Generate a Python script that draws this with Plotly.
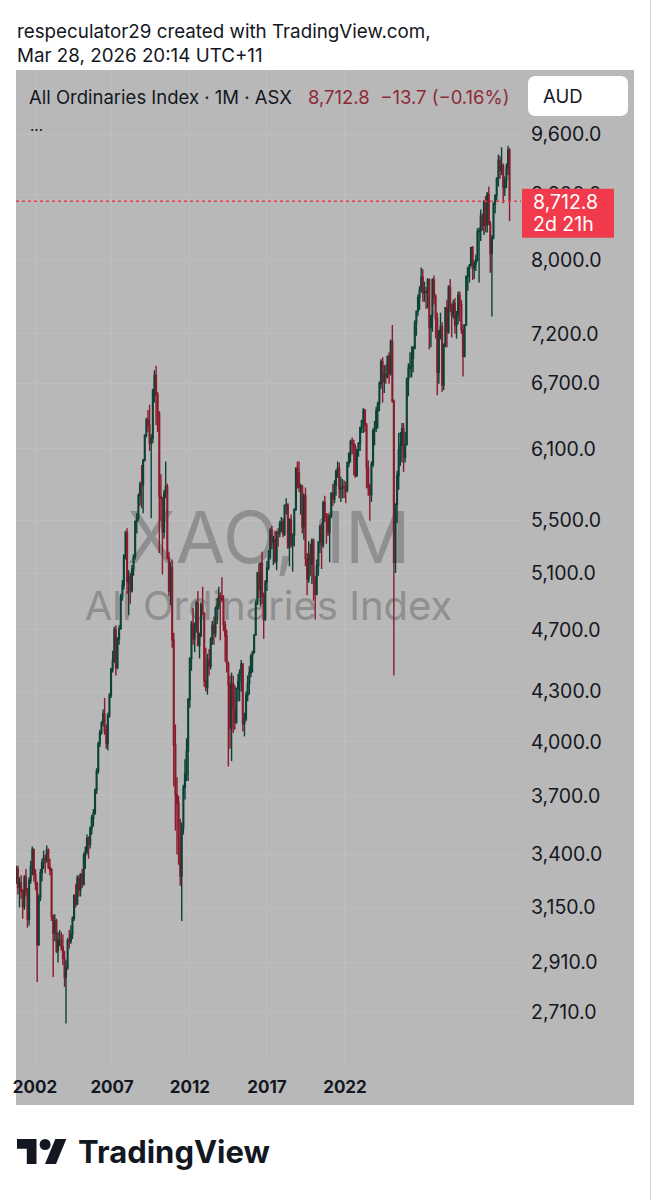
import plotly.graph_objects as go
import pandas as pd
import math

# ---------------- data (monthly candles, All Ordinaries, from Jul 2000) ----------------
start_month = "2000-07-01"

opens = [
    3257, 3281, 3330, 3245, 3265, 3225,                                   # 2000 Jul-Dec
    3155, 3291, 3225, 3097, 3275, 3340, 3425, 3303, 3260, 2988, 3197, 3312,  # 2001
    3360, 3383, 3374, 3422, 3340, 3325, 3108, 3035, 3091, 2960, 3005, 3005,  # 2002
    2976, 2927, 2849, 2888, 3004, 3000, 3031, 3100, 3207, 3166, 3285, 3232,  # 2003
    3306, 3260, 3397, 3415, 3480, 3450, 3530, 3585, 3610, 3730, 3835, 3990,  # 2004
    4053, 4107, 4165, 4061, 3990, 4152, 4278, 4441, 4498, 4698, 4451, 4640,  # 2005
    4708, 4933, 5010, 5228, 5405, 5038, 5074, 4972, 5130, 5222, 5495, 5520,  # 2006
    5700, 5795, 5790, 6000, 6221, 6358, 6310, 6150, 6196, 6638, 6779, 6591,  # 2007
    6421, 5697, 5680, 5410, 5720, 5773, 5215, 4970, 5140, 4632, 3983, 3706,  # 2008
    3659, 3478, 3296, 3532, 3744, 3818, 3947, 4249, 4508, 4739, 4640, 4716,  # 2009
    4883, 4596, 4661, 4871, 4808, 4366, 4325, 4498, 4460, 4637, 4730, 4678,  # 2010
    4847, 4869, 4935, 4929, 4910, 4733, 4660, 4475, 4343, 4080, 4350, 4200,  # 2011
    4111, 4320, 4360, 4420, 4473, 4105, 4135, 4275, 4350, 4420, 4525, 4550,  # 2012
    4665, 4880, 5100, 4980, 5175, 4930, 4775, 5035, 5140, 5220, 5425, 5335,  # 2013
    5353, 5190, 5405, 5403, 5475, 5490, 5396, 5624, 5625, 5296, 5505, 5313,  # 2014
    5389, 5588, 5929, 5891, 5773, 5777, 5451, 5699, 5207, 5058, 5239, 5166,  # 2015
    5345, 5056, 4948, 5152, 5333, 5451, 5310, 5644, 5526, 5526, 5407, 5536,  # 2016
    5719, 5673, 5785, 5903, 5931, 5761, 5764, 5773, 5772, 5744, 5976, 6057,  # 2017
    6167, 6146, 6117, 5868, 6087, 6146, 6289, 6352, 6446, 6311, 5938, 5771,  # 2018
    5709, 5965, 6261, 6284, 6444, 6509, 6699, 6916, 6721, 6789, 6768, 6965,  # 2019
    6802, 7121, 6532, 5180, 5630, 5870, 6090, 6130, 6280, 6023, 6137, 6745,  # 2020
    6850, 6870, 6948, 7050, 7311, 7436, 7585, 7669, 7811, 7637, 7650, 7640,  # 2021
    7780, 7265, 7386, 7780, 7595, 7360, 6810, 7230, 7270, 6690, 7090, 7474,  # 2022
    7221, 7700, 7475, 7390, 7520, 7290, 7400, 7610, 7510, 7240, 6970, 7290,  # 2023
    7820, 7910, 7940, 8150, 7910, 7960, 8010, 8340, 8350, 8530, 8420, 8710,  # 2024
    8420, 8800, 8430, 8080, 8270, 8680, 8790, 9000, 9240, 9110, 9170, 8890,  # 2025
    8980, 9150, 9380,                                                     # 2026 Jan-Mar
]

highs = [
    3320, 3345, 3345, 3290, 3300, 3235,
    3300, 3330, 3240, 3290, 3370, 3440, 3430, 3330, 3270, 3210, 3330, 3380,
    3420, 3400, 3445, 3430, 3380, 3335, 3120, 3120, 3100, 3040, 3050, 3040,
    3030, 2960, 2920, 3015, 3050, 3070, 3110, 3210, 3260, 3300, 3300, 3310,
    3330, 3410, 3440, 3500, 3490, 3540, 3600, 3630, 3740, 3850, 4000, 4070,
    4120, 4190, 4260, 4100, 4170, 4290, 4450, 4560, 4720, 4730, 4650, 4730,
    4950, 5050, 5240, 5420, 5440, 5120, 5100, 5160, 5240, 5500, 5560, 5720,
    5820, 5960, 6010, 6230, 6380, 6450, 6500, 6230, 6650, 6830, 6875, 6620,
    6440, 5880, 5690, 5750, 5990, 5800, 5260, 5180, 5200, 4680, 4100, 3800,
    3700, 3580, 3560, 3760, 3900, 4020, 4260, 4520, 4760, 4850, 4750, 4900,
    4970, 4680, 4890, 5000, 4820, 4580, 4540, 4570, 4650, 4760, 4790, 4860,
    4920, 5000, 4960, 5070, 4940, 4760, 4700, 4490, 4400, 4420, 4400, 4340,
    4320, 4410, 4440, 4500, 4480, 4170, 4300, 4400, 4460, 4540, 4560, 4670,
    4900, 5110, 5170, 5180, 5260, 4960, 5050, 5190, 5270, 5440, 5460, 5380,
    5420, 5420, 5440, 5500, 5530, 5520, 5630, 5680, 5640, 5520, 5550, 5400,
    5600, 5940, 5990, 5990, 5800, 5790, 5720, 5770, 5250, 5340, 5320, 5360,
    5360, 5080, 5200, 5340, 5470, 5480, 5660, 5700, 5560, 5560, 5550, 5730,
    5800, 5830, 5920, 5990, 5980, 5860, 5840, 5830, 5820, 5990, 6070, 6180,
    6200, 6180, 6140, 6100, 6160, 6300, 6360, 6470, 6460, 6330, 6000, 5800,
    5990, 6280, 6350, 6480, 6530, 6720, 6940, 6960, 6880, 6890, 6980, 7010,
    7140, 7290, 6550, 5640, 5910, 6240, 6250, 6330, 6330, 6250, 6760, 6900,
    7010, 7070, 7070, 7340, 7440, 7620, 7710, 7920, 7900, 7760, 7700, 7800,
    7800, 7400, 7800, 7830, 7620, 7420, 7230, 7420, 7320, 7100, 7480, 7560,
    7720, 7790, 7520, 7560, 7580, 7440, 7650, 7650, 7560, 7300, 7300, 7830,
    7930, 7960, 8160, 8170, 8000, 8070, 8380, 8390, 8610, 8560, 8730, 8780,
    8830, 8900, 8470, 8300, 8700, 8800, 9020, 9320, 9300, 9420, 9200, 9030,
    9200, 9440, 9410,
]

lows = [
    3230, 3260, 3210, 3150, 3190, 3100,
    3140, 3200, 3060, 3070, 3260, 3300, 3270, 3230, 2830, 2980, 3180, 3270,
    3330, 3310, 3360, 3330, 3300, 3090, 2850, 3000, 2950, 2910, 2980, 2960,
    2900, 2810, 2665, 2880, 2970, 2990, 3010, 3090, 3150, 3160, 3200, 3200,
    3240, 3250, 3330, 3400, 3380, 3430, 3500, 3540, 3600, 3710, 3820, 3970,
    4040, 4090, 4040, 3960, 3950, 4140, 4260, 4420, 4480, 4400, 4440, 4600,
    4700, 4900, 4980, 5200, 4950, 4800, 4880, 4960, 5080, 5200, 5400, 5500,
    5620, 5600, 5560, 5990, 6200, 6250, 6080, 5520, 6150, 6520, 6310, 6250,
    5250, 5500, 5090, 5360, 5680, 5200, 4930, 4870, 4580, 3750, 3520, 3400,
    3350, 3250, 3090, 3500, 3680, 3780, 3780, 4200, 4430, 4600, 4550, 4680,
    4590, 4510, 4650, 4800, 4330, 4300, 4280, 4400, 4440, 4600, 4600, 4650,
    4740, 4840, 4630, 4890, 4690, 4490, 4420, 3860, 3960, 3890, 4050, 4070,
    4110, 4240, 4240, 4300, 4060, 4030, 4120, 4240, 4280, 4390, 4420, 4540,
    4660, 4870, 4920, 4860, 4880, 4640, 4760, 4970, 5120, 5200, 5280, 5160,
    5170, 5120, 5300, 5370, 5410, 5370, 5380, 5550, 5280, 5150, 5290, 5110,
    5300, 5580, 5760, 5730, 5550, 5400, 5350, 5150, 4940, 5030, 5080, 5020,
    4900, 4770, 4940, 5080, 5250, 5130, 5290, 5490, 5320, 5380, 5180, 5520,
    5620, 5640, 5700, 5850, 5680, 5650, 5680, 5680, 5640, 5730, 5940, 5980,
    6050, 5870, 5850, 5860, 6030, 6080, 6240, 6240, 6250, 5760, 5700, 5500,
    5650, 5940, 6130, 6250, 6280, 6440, 6650, 6520, 6610, 6700, 6750, 6700,
    6780, 6520, 4400, 5100, 5480, 5750, 5950, 5980, 5900, 5980, 6130, 6580,
    6760, 6760, 6810, 7040, 7180, 7390, 7450, 7640, 7540, 7540, 7460, 7470,
    7040, 7060, 7220, 7510, 7150, 6590, 6700, 7140, 6620, 6640, 7060, 7060,
    7200, 7430, 7160, 7360, 7200, 7150, 7300, 7330, 7200, 6770, 6960, 7280,
    7660, 7750, 7940, 7780, 7790, 7880, 7990, 7750, 8230, 8350, 8300, 8330,
    8330, 8420, 7860, 7380, 8250, 8560, 8720, 8900, 9000, 9050, 8690, 8780,
    8880, 9050, 8470,
]

closes = [
    3281, 3330, 3245, 3265, 3225, 3155,
    3291, 3225, 3097, 3275, 3340, 3425, 3303, 3260, 2988, 3197, 3312, 3360,
    3383, 3374, 3422, 3340, 3325, 3108, 3035, 3091, 2960, 3005, 3005, 2976,
    2927, 2849, 2888, 3004, 3000, 3031, 3100, 3207, 3166, 3285, 3232, 3306,
    3260, 3397, 3415, 3480, 3450, 3530, 3585, 3610, 3730, 3835, 3990, 4053,
    4107, 4165, 4061, 3990, 4152, 4278, 4441, 4498, 4698, 4451, 4640, 4708,
    4933, 5010, 5228, 5405, 5038, 5074, 4972, 5130, 5222, 5495, 5520, 5700,
    5795, 5790, 6000, 6221, 6358, 6310, 6150, 6196, 6638, 6779, 6591, 6421,
    5697, 5680, 5410, 5720, 5773, 5215, 4970, 5140, 4632, 3983, 3706, 3659,
    3478, 3296, 3532, 3744, 3818, 3947, 4249, 4508, 4739, 4640, 4716, 4883,
    4596, 4661, 4871, 4808, 4366, 4325, 4498, 4460, 4637, 4730, 4678, 4847,
    4869, 4935, 4929, 4910, 4733, 4660, 4475, 4343, 4080, 4350, 4200, 4111,
    4320, 4360, 4420, 4473, 4105, 4135, 4275, 4350, 4420, 4525, 4550, 4665,
    4880, 5100, 4980, 5175, 4930, 4775, 5035, 5140, 5220, 5425, 5335, 5353,
    5190, 5405, 5403, 5475, 5490, 5396, 5624, 5625, 5296, 5505, 5313, 5389,
    5588, 5929, 5891, 5773, 5777, 5451, 5699, 5207, 5058, 5239, 5166, 5345,
    5056, 4948, 5152, 5333, 5451, 5310, 5644, 5526, 5526, 5407, 5536, 5719,
    5673, 5785, 5903, 5931, 5761, 5764, 5773, 5772, 5744, 5976, 6057, 6167,
    6146, 6117, 5868, 6087, 6146, 6289, 6352, 6446, 6311, 5938, 5771, 5709,
    5965, 6261, 6284, 6444, 6509, 6699, 6916, 6721, 6789, 6768, 6965, 6802,
    7121, 6532, 5180, 5630, 5870, 6090, 6130, 6280, 6023, 6137, 6745, 6850,
    6870, 6948, 7050, 7311, 7436, 7585, 7669, 7811, 7637, 7650, 7640, 7780,
    7265, 7386, 7780, 7595, 7360, 6810, 7230, 7270, 6690, 7090, 7474, 7221,
    7700, 7475, 7390, 7520, 7290, 7400, 7610, 7510, 7240, 6970, 7290, 7820,
    7910, 7940, 8150, 7910, 7960, 8010, 8340, 8350, 8530, 8420, 8710, 8420,
    8800, 8430, 8080, 8270, 8680, 8790, 9000, 9240, 9110, 9170, 8890, 8980,
    9150, 9380, 8712.8,
]

dates = pd.date_range(start_month, periods=len(closes), freq="MS")

price_ticks = [2710, 2910, 3150, 3400, 3700, 4000, 4300, 4700, 5100, 5500,
               6100, 6700, 7200, 8000, 8800, 9600]
# time-axis labels sit where the reference screenshot shows them
year_tick_dates = ["2001-07-22", "2005-07-19", "2009-08-03", "2013-08-01", "2017-08-18"]
year_labels = ["2002", "2007", "2012", "2017", "2022"]
last_price = 8712.8

# ---------------- geometry / style ----------------
W, H = 651, 1200
PL, PR, PT, PB = 16, 521, 70, 1062          # plot area in px
PW, PH = PR - PL, PB - PT
Y_RANGE = [3.40168, 4.02232]                # log10 range
X_RANGE = ["2000-07-27", "2026-10-04"]

FONT = "Inter, 'Noto Sans', sans-serif"
INK = "#131722"
PANEL = "#b8b8b8"
GRID = "#bebebe"
UP = "#0c4235"
DOWN = "#8b1a2c"
TAG = "#f13b4c"


def px(x):
    return (x - PL) / PW


def py(y):
    return (PB - y) / PH


def price_y_px(v):
    return PT + (Y_RANGE[1] - math.log10(v)) / (Y_RANGE[1] - Y_RANGE[0]) * PH


fig = go.Figure()

# watermark on the base subplot (drawn beneath the candles)
fig.add_trace(go.Scatter(
    x=[0.5, 0.5], y=[py(545), py(610)], mode="text",
    text=["XAO, 1M", "All Ordinaries Index"],
    textfont=dict(family=FONT, size=[72, 40], color="#8f8f8f"),
    textposition="middle center", hoverinfo="skip", showlegend=False,
    xaxis="x", yaxis="y",
))

fig.add_trace(go.Candlestick(
    x=dates, open=opens, high=highs, low=lows, close=closes,
    increasing=dict(line=dict(color=UP, width=1.4), fillcolor=UP),
    decreasing=dict(line=dict(color=DOWN, width=1.4), fillcolor=DOWN),
    whiskerwidth=0, hoverinfo="skip", showlegend=False,
    xaxis="x2", yaxis="y2",
))

# last price dotted line
fig.add_trace(go.Scatter(
    x=[X_RANGE[0], X_RANGE[1]], y=[last_price, last_price], mode="lines",
    line=dict(color=TAG, width=1.5, dash="dot"), hoverinfo="skip",
    showlegend=False, xaxis="x2", yaxis="y2",
))

lp = price_y_px(last_price)

shapes = [
    # grey panel
    dict(type="rect", xref="paper", yref="paper", x0=px(16), x1=px(634),
         y0=py(1105), y1=py(70), fillcolor=PANEL, line=dict(width=0), layer="below"),
    # AUD box
    dict(type="path", xref="paper", yref="paper", layer="above",
         path=(f"M {px(536)} {py(76)} L {px(620)} {py(76)} "
               f"Q {px(628)} {py(76)} {px(628)} {py(84)} L {px(628)} {py(108)} "
               f"Q {px(628)} {py(116)} {px(620)} {py(116)} L {px(536)} {py(116)} "
               f"Q {px(528)} {py(116)} {px(528)} {py(108)} L {px(528)} {py(84)} "
               f"Q {px(528)} {py(76)} {px(536)} {py(76)} Z"),
         fillcolor="white", line=dict(width=0)),
    # last price tag
    dict(type="rect", xref="paper", yref="paper", layer="above",
         x0=px(522), x1=px(614), y0=py(lp - 12.5), y1=py(lp + 36.5),
         fillcolor=TAG, line=dict(width=0)),
    # TradingView logo glyph
    dict(type="path", xref="paper", yref="paper", layer="above",
         path=(f"M {px(17)} {py(1139)} L {px(36.5)} {py(1139)} L {px(36.5)} {py(1164)} "
               f"L {px(26.8)} {py(1164)} L {px(26.8)} {py(1148.8)} L {px(17)} {py(1148.8)} Z"),
         fillcolor=INK, line=dict(width=0)),
    dict(type="circle", xref="paper", yref="paper", layer="above",
         x0=px(39.6), x1=px(50.6), y0=py(1150), y1=py(1139),
         fillcolor=INK, line=dict(width=0)),
    dict(type="path", xref="paper", yref="paper", layer="above",
         path=(f"M {px(55.3)} {py(1139)} L {px(66.3)} {py(1139)} L {px(56)} {py(1164)} "
               f"L {px(45)} {py(1164)} Z"),
         fillcolor=INK, line=dict(width=0)),
    # right border of screenshot
    dict(type="line", xref="paper", yref="paper", x0=px(650.5), x1=px(650.5),
         y0=py(0), y1=py(1200), line=dict(color="#d6d6d6", width=1)),
]


def ann(text, x, y, size, color=INK, xanchor="left", weight="normal"):
    return dict(text=text, x=px(x), y=py(y), xref="paper", yref="paper",
                xanchor=xanchor, yanchor="middle", showarrow=False,
                font=dict(family=FONT, size=size, color=color, weight=weight))


annotations = [
    ann("respeculator29 created with TradingView.com,", 15, 32, 18.8),
    ann("Mar 28, 2026 20:14 UTC+11", 15, 56, 18.8),
    ann("All Ordinaries Index \u00b7 1M \u00b7 ASX", 27, 97, 18.5),
    ann("8,712.8\u00a0\u00a0\u221213.7 (\u22120.16%)", 306, 97, 18.5, color="#8e2a37"),
    ann("AUD", 541, 96, 18.5),
    ann("...", 28, 126, 15),
    ann(f"{last_price:,.1f}", 531, lp + 1, 19.5, color="white"),
    ann("2d 21h", 531, lp + 22.5, 19.5, color="white"),
    ann("TradingView", 76, 1151, 31, weight="bold"),
]

fig.update_layout(
    width=W, height=H, autosize=False,
    margin=dict(l=PL, r=W - PR, t=PT, b=H - PB, pad=0),
    paper_bgcolor="white", plot_bgcolor=PANEL,
    showlegend=False, hovermode=False, dragmode=False,
    xaxis=dict(range=[0, 1], visible=False, fixedrange=True),
    yaxis=dict(range=[0, 1], visible=False, fixedrange=True),
    xaxis2=dict(
        overlaying="x", anchor="y", side="bottom", type="date", range=X_RANGE,
        tickmode="array", tickvals=year_tick_dates, ticktext=year_labels,
        showgrid=True, gridcolor=GRID, gridwidth=1, zeroline=False, showline=False,
        ticks="", ticklabelstandoff=13,
        tickfont=dict(family=FONT, size=17, color=INK, weight=700),
        rangeslider=dict(visible=False), fixedrange=True,
    ),
    yaxis2=dict(
        overlaying="y", anchor="x", side="right", type="log", range=Y_RANGE,
        tickmode="array", tickvals=price_ticks,
        ticktext=[f"{v:,.1f}" for v in price_ticks],
        showgrid=True, gridcolor=GRID, gridwidth=1, zeroline=False, showline=False,
        ticks="", ticklabelstandoff=9,
        tickfont=dict(family=FONT, size=19.5, color=INK), fixedrange=True,
    ),
    shapes=shapes,
    annotations=annotations,
)

fig.write_html("out.html", config={"displayModeBar": False},
               post_script="document.body.style.margin='0px';")
